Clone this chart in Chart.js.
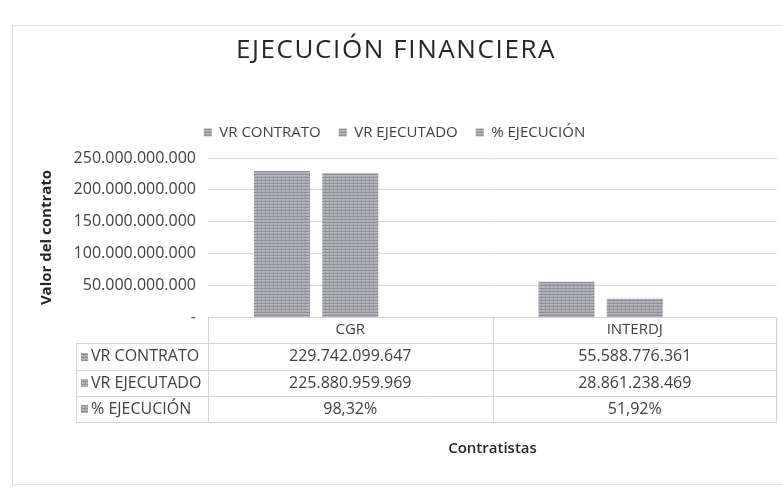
<!DOCTYPE html>
<html>
<head>
<meta charset="utf-8">
<script src="https://cdn.jsdelivr.net/npm/chart.js@4.4.0/dist/chart.umd.min.js"></script>
<style>
  html, body { margin: 0; padding: 0; background: #fff; }
  #wrap { width: 782px; height: 487px; }
</style>
</head>
<body>
<div id="wrap"><canvas id="chart" width="782" height="487"></canvas></div>
<script>
// data
var chartTitle = 'EJECUCIÓN FINANCIERA';
var contratistas = ['CGR', 'INTERDJ'];
var seriesNames = ['VR CONTRATO', 'VR EJECUTADO', '% EJECUCIÓN'];
var vrContrato = [229742099647, 55588776361];
var vrEjecutado = [225880959969, 28861238469];
var pctEjecucion = [98.32, 51.92];
var yTicks = [0, 50000000000, 100000000000, 150000000000, 200000000000, 250000000000];

var textColor = '#404040';
var fontName = '"Open Sans", "DejaVu Sans", sans-serif';

function fmtNum(v) {
    return String(Math.round(v)).replace(/\B(?=(\d{3})+(?!\d))/g, '.');
}
function fmtPct(v) {
    return v.toFixed(2).replace('.', ',') + '%';
}

// gray halftone-ish fill like the scanned bars
function makePattern() {
    var c = document.createElement('canvas');
    c.width = 4; c.height = 3;
    var p = c.getContext('2d');
    p.fillStyle = '#b3b4b9';
    p.fillRect(0, 0, 4, 3);
    p.fillStyle = '#8f9096';
    p.fillRect(0, 0, 4, 1);
    p.fillRect(1, 2, 1, 1);
    return p.createPattern(c, 'repeat');
}
var barFill = makePattern();

var tableRows = [
    vrContrato.map(fmtNum),
    vrEjecutado.map(fmtNum),
    pctEjecucion.map(fmtPct)
];

var frameAndTable = {
    id: 'frameAndTable',
    afterInit: function(chart) {
        // a bit more room between the legend and the plot
        var lg = chart.legend;
        var fit = lg.fit;
        lg.fit = function() {
            fit.call(this);
            this.height += 8;
        };
    },
    beforeDraw: function(chart) {
        var ctx = chart.ctx;
        ctx.save();
        ctx.fillStyle = '#fff';
        ctx.fillRect(0, 0, chart.width, chart.height);
        ctx.strokeStyle = '#dddddd';
        ctx.lineWidth = 1;
        ctx.strokeRect(12.5, 25.5, chart.width, 459);
        ctx.restore();
    },
    afterDraw: function(chart) {
        var ctx = chart.ctx;
        var area = chart.chartArea;
        var x = chart.scales.x;

        // title, spaced out like the original
        ctx.save();
        ctx.font = '500 26px ' + fontName;
        ctx.letterSpacing = '1.6px';
        ctx.fillStyle = '#262626';
        ctx.textAlign = 'center';
        ctx.textBaseline = 'middle';
        ctx.fillText(chartTitle, 396, 51);
        ctx.restore();

        // data table under the axis
        var rowH = [26, 27, 26, 26];
        var tops = [area.bottom];
        for (var i = 0; i < rowH.length; i++) tops.push(tops[i] + rowH[i]);
        var labelLeft = 76;
        var mid = (x.getPixelForValue(0) + x.getPixelForValue(1)) / 2;

        ctx.save();
        ctx.strokeStyle = '#d4d4d4';
        ctx.lineWidth = 1;
        ctx.beginPath();
        ctx.moveTo(area.left, tops[0] + 0.5);
        ctx.lineTo(area.right, tops[0] + 0.5);
        for (var r = 1; r < tops.length; r++) {
            ctx.moveTo(labelLeft, Math.round(tops[r]) + 0.5);
            ctx.lineTo(area.right, Math.round(tops[r]) + 0.5);
        }
        ctx.moveTo(labelLeft + 0.5, tops[1]);
        ctx.lineTo(labelLeft + 0.5, tops[4]);
        ctx.moveTo(Math.round(area.left) + 0.5, tops[0]);
        ctx.lineTo(Math.round(area.left) + 0.5, tops[4]);
        ctx.moveTo(Math.round(mid) + 0.5, tops[0]);
        ctx.lineTo(Math.round(mid) + 0.5, tops[4]);
        ctx.moveTo(Math.round(area.right) - 0.5, tops[0]);
        ctx.lineTo(Math.round(area.right) - 0.5, tops[4]);
        ctx.stroke();

        ctx.fillStyle = textColor;
        ctx.textBaseline = 'middle';
        ctx.textAlign = 'center';
        ctx.font = '15px ' + fontName;
        contratistas.forEach(function(c, j) {
            ctx.fillText(c, x.getPixelForValue(j), (tops[0] + tops[1]) / 2);
        });
        ctx.font = '16px ' + fontName;
        tableRows.forEach(function(row, k) {
            var cy = (tops[k + 1] + tops[k + 2]) / 2;
            row.forEach(function(txt, j) {
                ctx.fillText(txt, x.getPixelForValue(j), cy);
            });
        });
        ctx.textAlign = 'left';
        ctx.font = '16px ' + fontName;
        seriesNames.forEach(function(name, k) {
            var cy = (tops[k + 1] + tops[k + 2]) / 2;
            ctx.fillStyle = barFill;
            ctx.fillRect(81, Math.round(cy - 4), 7, 8);
            ctx.fillStyle = textColor;
            ctx.fillText(name, 91, cy);
        });
        ctx.restore();
    }
};

new Chart(document.getElementById('chart'), {
    type: 'bar',
    data: {
        labels: contratistas,
        datasets: [{
            label: seriesNames[0],
            data: vrContrato,
            backgroundColor: barFill
        }, {
            label: seriesNames[1],
            data: vrEjecutado,
            backgroundColor: barFill
        }, {
            label: seriesNames[2],
            data: pctEjecucion.map(function(v) { return v / 100; }),
            backgroundColor: barFill
        }]
    },
    options: {
        responsive: false,
        animation: false,
        categoryPercentage: 0.72,
        barPercentage: 0.82,
        inflateAmount: 0,
        layout: {
            padding: { left: 12, top: 107, right: 5, bottom: 25 }
        },
        plugins: {
            title: { display: false },
            tooltip: { enabled: false },
            legend: {
                position: 'top',
                labels: {
                    color: textColor,
                    font: { family: fontName, size: 15 },
                    boxWidth: 8,
                    boxHeight: 8,
                    padding: 18
                }
            }
        },
        scales: {
            x: {
                grid: { display: false, drawTicks: false },
                border: { display: false },
                ticks: { display: false },
                title: {
                    display: true,
                    text: 'Contratistas',
                    color: '#262626',
                    font: { family: fontName, size: 15, weight: '600' },
                    padding: { top: 123, bottom: 4 }
                }
            },
            y: {
                min: 0,
                max: 250000000000,
                afterBuildTicks: function(scale) {
                    scale.ticks = yTicks.map(function(v) { return { value: v }; });
                },
                afterFit: function(scale) {
                    scale.width = 196;
                },
                grid: {
                    color: '#dadada',
                    drawTicks: false,
                    // the zero line is the table's top edge, drawn with the table
                    lineWidth: function(c) { return c.tick && c.tick.value === 0 ? 0 : 1; }
                },
                border: { display: false },
                ticks: {
                    color: textColor,
                    font: { family: fontName, size: 16 },
                    padding: 12,
                    callback: function(v) {
                        return v === 0 ? '-' : fmtNum(v);
                    }
                },
                title: {
                    display: true,
                    text: 'Valor del contrato',
                    color: '#262626',
                    font: { family: fontName, size: 15, weight: 'bold' },
                    padding: { top: 26, bottom: 0 }
                }
            }
        }
    },
    plugins: [frameAndTable]
});
</script>
</body>
</html>
